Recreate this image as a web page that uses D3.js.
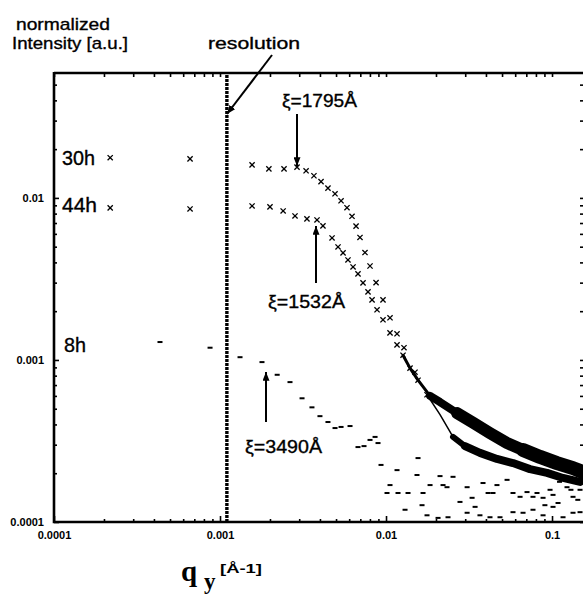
<!DOCTYPE html>
<html>
<head>
<meta charset="utf-8">
<script src="https://cdnjs.cloudflare.com/ajax/libs/d3/7.8.5/d3.min.js"></script>
<style>
body { margin: 0; background: #fff; }
text { font-family: "Liberation Sans", Arial, sans-serif; fill: #000; }
</style>
</head>
<body>
<div id="chart"></div>
<script>
// values (q in 1/A, intensity normalized)
var seriesNames = ["30h", "44h", "8h"];

var q30 = [2.18e-4, 6.60e-4, 1.56e-3, 1.97e-3, 2.43e-3, 2.91e-3, 3.30e-3, 3.68e-3, 4.06e-3, 4.47e-3,
	4.93e-3, 5.36e-3, 5.82e-3, 6.24e-3, 6.60e-3, 6.97e-3, 7.47e-3, 8.01e-3, 8.71e-3, 9.59e-3,
	1.057e-2, 1.165e-2, 1.283e-2, 1.495e-2, 1.766e-2, 2.115e-2, 2.533e-2, 2.99e-2, 3.68e-2, 4.66e-2,
	5.82e-2, 7.37e-2, 9.33e-2, 0.1165, 0.1475];
var i30 = [0.0177, 0.0174, 0.0160, 0.0151, 0.0151, 0.0155, 0.0147, 0.0137, 0.0126, 0.0115,
	0.0106, 0.0096, 0.0087, 0.0077, 0.0067, 0.0057, 0.0046, 0.0038, 0.0030, 0.00235,
	0.00182, 0.00145, 0.00119, 8.4e-4, 6.1e-4, 4.6e-4, 3.35e-4, 2.94e-4, 2.67e-4, 2.45e-4,
	2.31e-4, 2.12e-4, 2.01e-4, 1.87e-4, 1.77e-4];

var q44 = [2.18e-4, 6.60e-4, 1.56e-3, 2.00e-3, 2.40e-3, 2.83e-3, 3.34e-3, 3.84e-3, 4.17e-3, 4.73e-3,
	5.14e-3, 5.51e-3, 5.90e-3, 6.33e-3, 6.78e-3, 7.27e-3, 7.79e-3, 8.24e-3, 8.83e-3, 9.59e-3,
	1.057e-2, 1.165e-2, 1.266e-2, 1.395e-2, 1.559e-2, 1.842e-2, 2.115e-2, 2.68e-2, 3.34e-2, 4.23e-2,
	5.36e-2, 6.69e-2, 8.47e-2, 0.1072, 0.1338, 0.1537];
var i44 = [0.00868, 0.00855, 0.00892, 0.00880, 0.00831, 0.00774, 0.00742, 0.00731, 0.00672, 0.00566,
	0.00498, 0.00458, 0.00414, 0.00375, 0.00340, 0.00299, 0.00263, 0.00235, 0.00204, 0.00177,
	0.00147, 0.00124, 0.00107, 8.9e-4, 7.5e-4, 6.0e-4, 5.5e-4, 4.7e-4, 4.1e-4, 3.54e-4,
	3.07e-4, 2.78e-4, 2.52e-4, 2.31e-4, 2.15e-4, 2.03e-4];

var q8 = [4.35e-4, 8.71e-4, 1.32e-3, 1.79e-3, 2.21e-3, 2.64e-3, 3.12e-3, 3.58e-3, 4.00e-3, 4.47e-3,
	4.93e-3, 5.36e-3, 6.07e-3, 6.78e-3, 7.37e-3, 8.01e-3, 8.59e-3, 8.95e-3, 9.33e-3, 1.165e-2,
	1.537e-2, 1.559e-2, 2.115e-2, 2.205e-2, 2.533e-2, 1.842e-2, 1.671e-2, 2.33e-2, 2.79e-2, 3.08e-2,
	3.30e-2, 3.44e-2, 3.84e-2, 4.12e-2, 4.41e-2, 4.66e-2, 5.36e-2, 5.82e-2, 6.42e-2, 7.07e-2,
	7.68e-2, 8.12e-2, 8.83e-2, 0.1014, 0.1087, 0.1231, 0.1338, 0.1475, 1.057e-2, 1.181e-2,
	1.302e-2, 1.014e-2, 1.357e-2, 1.648e-2, 1.766e-2, 2.058e-2, 2.363e-2, 3.08e-2, 3.68e-2, 4.23e-2,
	4.86e-2, 5.82e-2, 6.69e-2, 7.68e-2, 8.83e-2, 0.1014, 0.1165, 0.1338, 0.1475, 0.111,
	0.130, 0.143, 0.0973, 0.0906];
var i8 = [1.29e-3, 1.19e-3, 1.04e-3, 9.7e-4, 8.1e-4, 7.3e-4, 5.8e-4, 5.1e-4, 4.5e-4, 4.14e-4,
	3.80e-4, 3.86e-4, 3.91e-4, 2.90e-4, 2.94e-4, 3.21e-4, 3.35e-4, 3.07e-4, 2.25e-4, 2.09e-4,
	1.95e-4, 2.48e-4, 1.92e-4, 1.69e-4, 1.90e-4, 1.69e-4, 1.51e-4, 1.64e-4, 1.33e-4, 1.64e-4,
	1.41e-4, 1.24e-4, 1.74e-4, 1.51e-4, 1.51e-4, 1.69e-4, 1.82e-4, 1.51e-4, 1.43e-4, 1.53e-4,
	1.43e-4, 1.51e-4, 1.41e-4, 1.47e-4, 1.31e-4, 1.64e-4, 1.43e-4, 1.58e-4, 1.69e-4, 1.51e-4,
	1.19e-4, 1.51e-4, 1.51e-4, 1.27e-4, 1.10e-4, 1.06e-4, 1.07e-4, 1.14e-4, 1.10e-4, 1.07e-4,
	1.07e-4, 1.15e-4, 1.14e-4, 1.19e-4, 1.10e-4, 1.24e-4, 1.07e-4, 1.14e-4, 1.15e-4, 1.77e-4,
	1.58e-4, 1.37e-4, 1.58e-4, 1.27e-4];

var resolutionQ = 1.10e-3;

var xTicks = [1e-4, 1e-3, 1e-2, 1e-1];
var xTickLabels = ["0.0001", "0.001", "0.01", "0.1"];
var yTicks = [1e-4, 1e-3, 1e-2];
var yTickLabels = ["0.0001", "0.001", "0.01"];

var xi = ["ξ=1795Å", "ξ=1532Å", "ξ=3490Å"];

// layout (careful: "top" is taken by window)
var W = 583, H = 602;
var pL = 54, pR = 585, pT = 73, pB = 522;

var svg = d3.select("#chart").append("svg").attr("width", W).attr("height", H);

var x = d3.scaleLog().domain([1e-4, 0.158]).range([pL, pR]);
var y = d3.scaleLog().domain([1e-4, 0.059]).range([pB, pT]);

//minor ticks 2..9 in each decade
function minors(dom) {
	var out = [];
	for (var d = 1e-5; d < 1; d *= 10) {
		for (var k = 2; k < 10; k++) {
			var v = k * d;
			if (v > dom[0] && v < dom[1]) out.push(v);
		}
	}
	return out;
}
var xMinor = minors(x.domain()), yMinor = minors(y.domain());

function styleAxis(g) {
	g.select(".domain").remove();
	g.selectAll(".tick line").attr("stroke", "#000").attr("stroke-width", 1.6);
	g.selectAll(".tick text").attr("font-size", "11px").attr("font-weight", "bold")
		.attr("font-family", "'Liberation Sans', Arial, sans-serif");
}

svg.append("g").attr("transform", "translate(0," + pB + ")")
	.call(d3.axisBottom(x).tickValues(xTicks).tickSize(-6).tickPadding(9).tickFormat(function (d, i) { return xTickLabels[i]; }))
	.call(styleAxis);
svg.append("g").attr("transform", "translate(0," + pB + ")")
	.call(d3.axisBottom(x).tickValues(xMinor).tickSize(-3).tickFormat(""))
	.call(styleAxis);
svg.append("g").attr("transform", "translate(0," + pT + ")")
	.call(d3.axisTop(x).tickValues(xTicks.concat(xMinor)).tickSize(-4).tickFormat(""))
	.call(styleAxis);
svg.append("g").attr("transform", "translate(" + pL + ",0)")
	.call(d3.axisLeft(y).tickValues(yTicks).tickSize(-5).tickPadding(10).tickFormat(function (d, i) { return yTickLabels[i]; }))
	.call(styleAxis);
svg.append("g").attr("transform", "translate(" + pL + ",0)")
	.call(d3.axisLeft(y).tickValues(yMinor).tickSize(-3).tickFormat(""))
	.call(styleAxis);
svg.append("g").attr("transform", "translate(" + pR + ",0)")
	.call(d3.axisRight(y).tickValues(yTicks.concat(yMinor)).tickSize(-5).tickFormat(""))
	.call(styleAxis);

// frame
svg.append("path")
	.attr("d", "M" + pL + "," + pT + "H" + pR + "M" + pL + "," + (pT - 1) + "V" + pB + "H" + pR)
	.attr("fill", "none").attr("stroke", "#000").attr("stroke-width", 2.6);

// resolution limit
svg.append("line")
	.attr("x1", x(resolutionQ)).attr("x2", x(resolutionQ))
	.attr("y1", pT + 2).attr("y2", pB)
	.attr("stroke", "#000").attr("stroke-width", 3.4).attr("stroke-dasharray", "3,1");

function pts(qs, is) {
	return qs.map(function (q, k) { return {q: q, i: is[k]}; });
}
var d30 = pts(q30, i30), d44 = pts(q44, i44), d8 = pts(q8, i8);

var line = d3.line().x(function (d) { return x(d.q); }).y(function (d) { return y(d.i); });

function band(ds, from, to, w) {
	svg.append("path").datum(ds.filter(function (d) { return d.q >= from && d.q <= to; }))
		.attr("d", line).attr("fill", "none").attr("stroke", "#000")
		.attr("stroke-width", w).attr("stroke-linecap", "round").attr("stroke-linejoin", "round");
}
// dense high-q part: points pile up into a solid band, getting wider to the right
band(d44, 0.0126, 0.022, 3);
band(d44, 0.0184, 0.035, 8);
band(d44, 0.026, 1, 12);
band(d44, 0.06, 1, 14);
band(d30, 0.0176, 0.026, 1.5);
band(d30, 0.025, 0.04, 6);
band(d30, 0.029, 1, 8);

var cross = "M-2.6,-2.6L2.6,2.6M-2.6,2.6L2.6,-2.6";
var crossMax = 0.02;
[d30, d44].forEach(function (ds) {
	svg.append("g").selectAll("path").data(ds.filter(function (d) { return d.q < crossMax; }))
		.enter().append("path")
		.attr("d", cross)
		.attr("transform", function (d) { return "translate(" + x(d.q) + "," + y(d.i) + ")"; })
		.attr("stroke", "#000").attr("stroke-width", 1.3).attr("fill", "none");
});

svg.append("g").selectAll("rect").data(d8).enter().append("rect")
	.attr("x", function (d) { return x(d.q) - 2.5; })
	.attr("y", function (d) { return y(d.i) - 1; })
	.attr("width", 5).attr("height", 2).attr("fill", "#000");

// arrows
svg.append("defs").append("marker")
	.attr("id", "arr").attr("viewBox", "0 0 10 8").attr("refX", 10).attr("refY", 4)
	.attr("markerWidth", 9).attr("markerHeight", 7).attr("markerUnits", "userSpaceOnUse")
	.attr("orient", "auto")
	.append("path").attr("d", "M0,0L10,4L0,8z").attr("fill", "#000");

var arrows = [[272, 55, 227, 114], [297, 114, 297, 166], [316, 283, 316, 226], [266, 422, 266, 372]];
svg.selectAll(".arrow").data(arrows).enter().append("line")
	.attr("class", "arrow")
	.attr("x1", function (a) { return a[0]; }).attr("y1", function (a) { return a[1]; })
	.attr("x2", function (a) { return a[2]; }).attr("y2", function (a) { return a[3]; })
	.attr("stroke", "#000").attr("stroke-width", 2).attr("marker-end", "url(#arr)");

// labels
function label(txt, lx, ly, size, len) {
	svg.append("text").attr("x", lx).attr("y", ly).attr("font-size", size + "px")
		.attr("stroke", "#000").attr("stroke-width", 0.35)
		.attr("textLength", len).attr("lengthAdjust", "spacingAndGlyphs").text(txt);
}
label("normalized", 16, 30, 17, 94);
label("Intensity [a.u.]", 12, 49, 17, 116);
label("resolution", 208, 49, 17, 92);
label(seriesNames[0], 62, 165, 20, 33);
label(seriesNames[1], 62, 212, 20, 35);
label(seriesNames[2], 64, 352, 20, 22);
label(xi[0], 282, 107, 18, 75);
label(xi[1], 268, 308, 18, 77);
label(xi[2], 245, 453, 18, 77);

// axis title q_y [A-1]
var qt = svg.append("g").attr("font-weight", "bold");
qt.append("text").attr("x", 181).attr("y", 581).attr("font-size", "29px")
	.style("font-family", "'Liberation Serif', serif").text("q");
qt.append("text").attr("x", 204).attr("y", 589).attr("font-size", "23px")
	.style("font-family", "'Liberation Serif', serif").text("y");
svg.append("text").attr("x", 220).attr("y", 573).attr("font-size", "13px").attr("font-weight", "bold")
	.attr("textLength", 42).attr("lengthAdjust", "spacingAndGlyphs").text("[Å-1]");
</script>
</body>
</html>
